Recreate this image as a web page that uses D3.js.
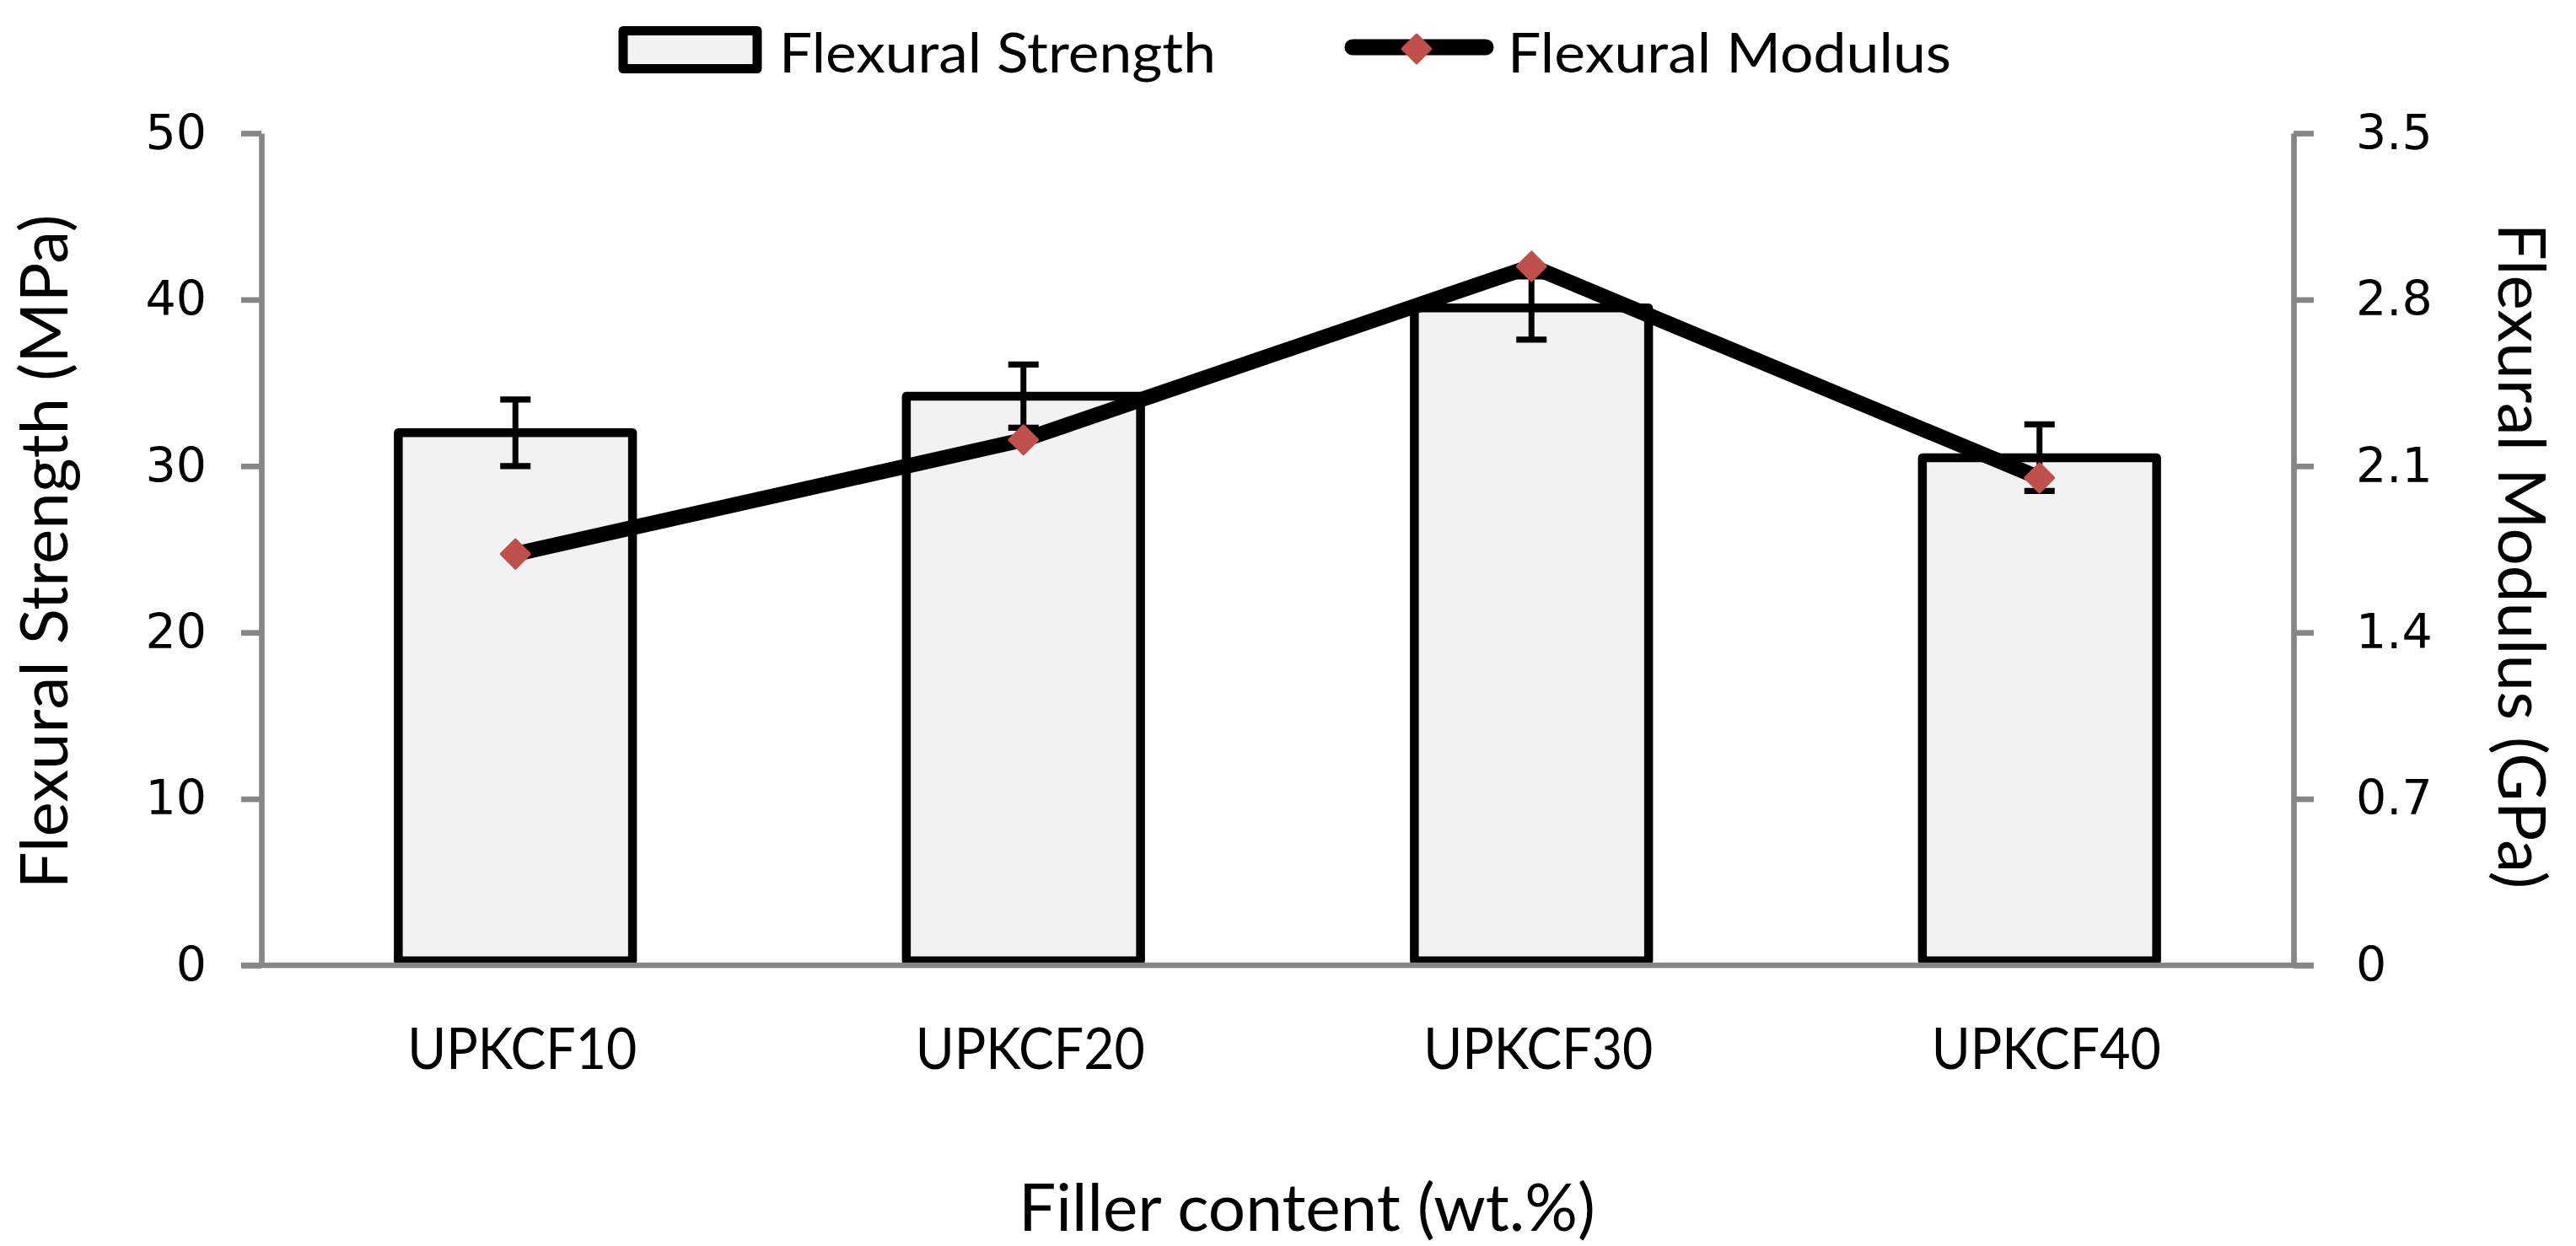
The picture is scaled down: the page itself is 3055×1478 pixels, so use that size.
<!DOCTYPE html>
<html>
<head>
<meta charset="utf-8">
<script src="https://cdn.jsdelivr.net/npm/d3@7"></script>
<style>
  html, body { margin: 0; padding: 0; background: #ffffff; }
  svg { display: block; }
</style>
</head>
<body>
<script>
// ---------- data ----------
const categories = ["UPKCF10", "UPKCF20", "UPKCF30", "UPKCF40"];
const strength = [32.0, 34.2, 39.5, 30.5];        // MPa (bars, left axis)
const strengthErr = [2.0, 1.9, 1.9, 2.0];         // MPa error bars
const modulus = [1.73, 2.21, 2.94, 2.05];         // GPa (line, right axis)
const leftTicks = [0, 10, 20, 30, 40, 50];
const rightTicks = [0, 0.7, 1.4, 2.1, 2.8, 3.5];
const rightTickLabels = ["0", "0.7", "1.4", "2.1", "2.8", "3.5"];
const seriesNames = ["Flexural Strength", "Flexural Modulus"];
const xTitle = "Filler content (wt.%)";
const yLeftTitle = "Flexural Strength (MPa)";
const yRightTitle = "Flexural Modulus (GPa)";

// ---------- layout / style ----------
const W = 3055, H = 1478;
const plot = { left: 310, right: 2720, top: 158, bottom: 1145 };
const axisColor = "#868686";
const barFill = "#f2f2f2";
const markerColor = "#C0504D";
const labelFont = "Lato, 'Open Sans', sans-serif";
const tickFont = "'DejaVu Sans', Verdana, sans-serif";

const svg = d3.select("body").append("svg")
  .attr("width", W).attr("height", H)
  .attr("viewBox", `0 0 ${W} ${H}`);

svg.append("rect").attr("width", W).attr("height", H).attr("fill", "#fff");

const x = d3.scaleBand().domain(categories).range([plot.left, plot.right]).padding(0);
const y = d3.scaleLinear().domain([0, 50]).range([plot.bottom, plot.top]);
const y2 = d3.scaleLinear().domain([0, 3.5]).range([plot.bottom, plot.top]);

const barW = x.bandwidth() * 0.461;
const barStroke = 10.5;
const cx = c => x(c) + x.bandwidth() / 2;

// ---------- bars ----------
svg.append("g").selectAll("rect")
  .data(categories)
  .join("rect")
  .attr("x", (c) => cx(c) - barW / 2)
  .attr("y", (c, i) => y(strength[i]))
  .attr("width", barW)
  .attr("height", (c, i) => y(0) - y(strength[i]) - barStroke / 2)
  .attr("fill", barFill)
  .attr("stroke", "#000")
  .attr("stroke-width", barStroke)
  .attr("stroke-linejoin", "round");

// ---------- axes ----------
const leftAxis = d3.axisLeft(y).tickValues(leftTicks).tickSize(24).tickSizeOuter(0).tickPadding(41)
  .tickFormat(d3.format("d"));
const gL = svg.append("g").attr("transform", `translate(${plot.left},0)`).call(leftAxis);

const rightAxis = d3.axisRight(y2).tickValues(rightTicks).tickSize(24).tickSizeOuter(0).tickPadding(50)
  .tickFormat((d, i) => rightTickLabels[i]);
const gR = svg.append("g").attr("transform", `translate(${plot.right},0)`).call(rightAxis);

const bottomAxis = d3.axisBottom(x).tickSize(0).tickSizeOuter(0).tickPadding(0);
const gB = svg.append("g").attr("transform", `translate(0,${plot.bottom})`).call(bottomAxis);

[gL, gR, gB].forEach(g => {
  g.select(".domain").attr("stroke", axisColor).attr("stroke-width", 6.7);
  g.selectAll(".tick line").attr("stroke", axisColor).attr("stroke-width", 6.7);
});
// bottom baseline extends under the zero ticks of both value axes
gB.select(".domain").attr("d", `M${plot.left - 24},0H${plot.right + 24}`);

[gL, gR].forEach(g => {
  g.selectAll(".tick text")
    .attr("font-family", tickFont)
    .attr("font-size", 57)
    .attr("fill", "#000");
});

gB.selectAll(".tick text")
  .attr("font-family", labelFont)
  .attr("font-size", 68)
  .attr("fill", "#000")
  .attr("y", 123)
  .attr("dy", 0)
  .attr("dx", 8)
  .attr("textLength", 272)
  .attr("lengthAdjust", "spacingAndGlyphs");

// ---------- error bars ----------
const eb = svg.append("g").attr("stroke", "#000");
categories.forEach((c, i) => {
  const xc = cx(c);
  const hi = y(strength[i] + strengthErr[i]);
  const lo = y(strength[i] - strengthErr[i]);
  eb.append("line").attr("x1", xc).attr("x2", xc).attr("y1", hi).attr("y2", lo).attr("stroke-width", 7);
  eb.append("line").attr("x1", xc - 18).attr("x2", xc + 18).attr("y1", hi).attr("y2", hi).attr("stroke-width", 7.3);
  eb.append("line").attr("x1", xc - 18).attr("x2", xc + 18).attr("y1", lo).attr("y2", lo).attr("stroke-width", 7.3);
});

// ---------- line ----------
const line = d3.line().x((d, i) => cx(categories[i])).y(d => y2(d));
svg.append("path")
  .datum(modulus)
  .attr("d", line)
  .attr("fill", "none")
  .attr("stroke", "#000")
  .attr("stroke-width", 18)
  .attr("stroke-linejoin", "round")
  .attr("stroke-linecap", "butt");

const diamond = d3.symbol().type(d3.symbolSquare).size(576);
svg.append("g").selectAll("path")
  .data(modulus)
  .join("path")
  .attr("d", diamond)
  .attr("transform", (d, i) => `translate(${cx(categories[i])},${y2(d)}) rotate(45)`)
  .attr("fill", markerColor)
  .attr("stroke", markerColor)
  .attr("stroke-width", 3)
  .attr("stroke-linejoin", "round");

// ---------- axis titles ----------
svg.append("text")
  .attr("x", 1550).attr("y", 1460)
  .attr("text-anchor", "middle")
  .attr("font-family", labelFont).attr("font-size", 78)
  .attr("textLength", 684).attr("lengthAdjust", "spacingAndGlyphs")
  .text(xTitle);

svg.append("text")
  .attr("transform", `translate(80,${(plot.top + plot.bottom) / 2 + 3}) rotate(-90)`)
  .attr("text-anchor", "middle")
  .attr("font-family", labelFont).attr("font-size", 78)
  .attr("textLength", 800).attr("lengthAdjust", "spacingAndGlyphs")
  .text(yLeftTitle);

svg.append("text")
  .attr("transform", `translate(2963,${(plot.top + plot.bottom) / 2 + 8}) rotate(90)`)
  .attr("text-anchor", "middle")
  .attr("font-family", labelFont).attr("font-size", 78)
  .attr("textLength", 790).attr("lengthAdjust", "spacingAndGlyphs")
  .text(yRightTitle);

// ---------- legend ----------
const lg = svg.append("g");
lg.append("rect")
  .attr("x", 739).attr("y", 36.5).attr("width", 159).attr("height", 45)
  .attr("fill", barFill).attr("stroke", "#000").attr("stroke-width", 11)
  .attr("stroke-linejoin", "round");
lg.append("text")
  .attr("x", 924).attr("y", 86)
  .attr("font-family", labelFont).attr("font-size", 65)
  .attr("textLength", 518).attr("lengthAdjust", "spacingAndGlyphs")
  .text(seriesNames[0]);
lg.append("line")
  .attr("x1", 1604).attr("x2", 1762).attr("y1", 56).attr("y2", 56)
  .attr("stroke", "#000").attr("stroke-width", 19).attr("stroke-linecap", "round");
lg.append("path")
  .attr("d", diamond)
  .attr("transform", "translate(1680,58) rotate(45)")
  .attr("fill", markerColor).attr("stroke", markerColor)
  .attr("stroke-width", 3).attr("stroke-linejoin", "round");
lg.append("text")
  .attr("x", 1788).attr("y", 86)
  .attr("font-family", labelFont).attr("font-size", 65)
  .attr("textLength", 526).attr("lengthAdjust", "spacingAndGlyphs")
  .text(seriesNames[1]);
</script>
</body>
</html>
